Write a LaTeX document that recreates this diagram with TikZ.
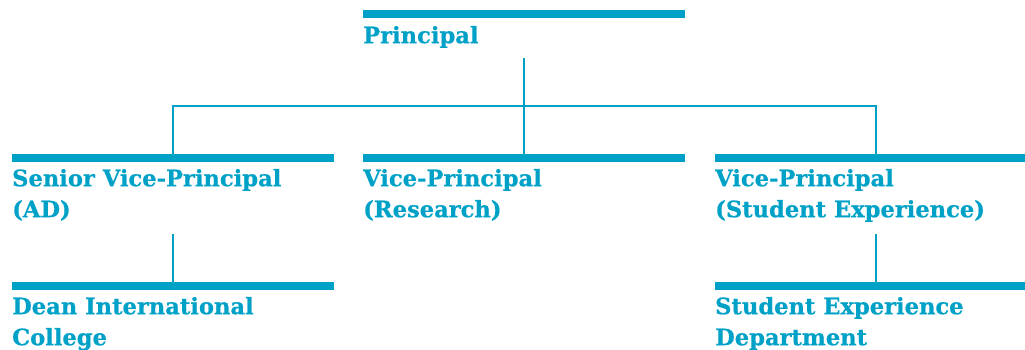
\documentclass[tikz,border=0pt]{standalone}
\usepackage{fontspec}
\setmainfont{DejaVu Serif}[BoldFeatures={FakeBold=0.6}]
\definecolor{brand}{RGB}{0,161,199}
\tikzset{
  bar/.style={fill=brand, draw=none, inner sep=0pt, minimum width=322pt, minimum height=8pt, anchor=north west},
  lbl/.style={text=brand, font=\bfseries\fontsize{22.6}{31}\selectfont, anchor=north west, inner sep=0pt, align=left},
  link/.style={draw=brand, line width=2pt}
}
\begin{document}
\begin{tikzpicture}[x=1pt,y=-1pt]
\useasboundingbox (0,0) rectangle (1025,350);
% bars
\node[bar] (pbar) at (363,10) {};
\node[bar] (svbar) at (12,154) {};
\node[bar] (vrbar) at (363,154) {};
\node[bar] (sebar) at (715,154) {};
\node[bar] (dbar) at (12,282) {};
\node[bar] (sdbar) at (715,282) {};
% labels
\node[lbl] (plbl) at (363,21.3) {\strut Principal};
\node[lbl] (svlbl) at (12,164.3) {\strut Senior Vice-Principal\\(AD)};
\node[lbl] (vrlbl) at (363,164.3) {\strut Vice-Principal\\(Research)};
\node[lbl] (selbl) at (715,164.3) {\strut Vice-Principal\\(Student Experience)};
\node[lbl] (dlbl) at (12,292.3) {\strut Dean International\\College};
\node[lbl] (sdlbl) at (715,292.3) {\strut Student Experience\\Department};
% connectors
\coordinate (pfoot) at (pbar.north |- 0,58);
\coordinate (hub) at (pbar.north |- 0,106);
\coordinate (svfoot) at (svbar.north |- 0,234);
\coordinate (sefoot) at (sebar.north |- 0,234);
\draw[link] (pfoot) -- (vrbar.north);
\draw[link] (hub) -| (svbar.north);
\draw[link] (hub) -| (sebar.north);
\draw[link] (svfoot) -- (dbar.north);
\draw[link] (sefoot) -- (sdbar.north);
\end{tikzpicture}
\end{document}
